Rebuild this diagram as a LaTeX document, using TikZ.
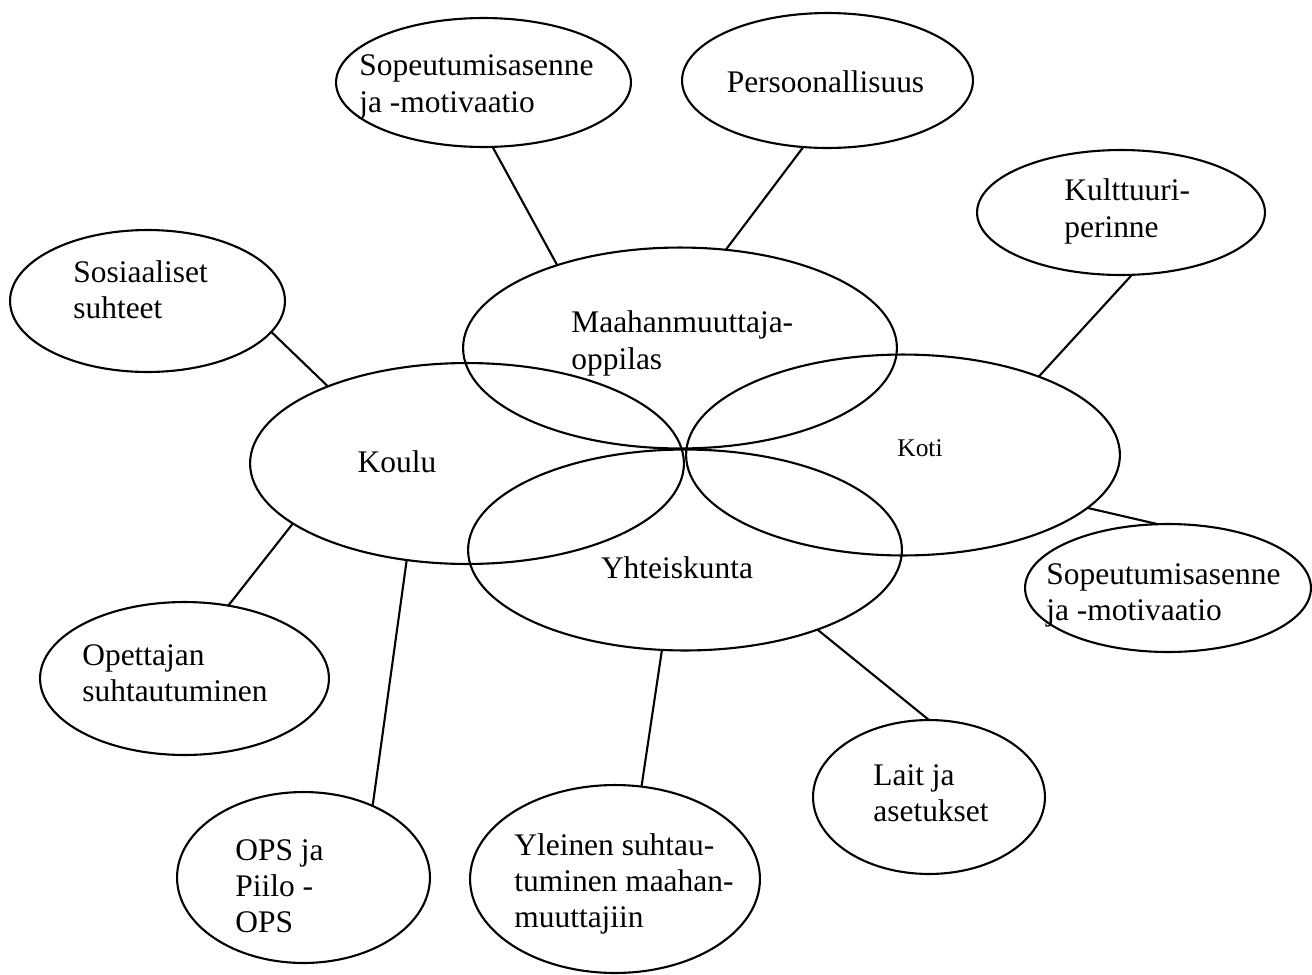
\documentclass[tikz,border=0pt]{standalone}
\usepackage{fontspec}
\setmainfont{Liberation Serif}
\usetikzlibrary{shapes.geometric}
\begin{document}
\begin{tikzpicture}[x=0.02cm,y=-0.02cm,
  ell/.style={draw, ellipse, line width=1.2pt, inner sep=0pt, outer sep=0pt},
  sz/.style 2 args={minimum width=#1*0.04cm, minimum height=#2*0.04cm},
  lbl/.style={font=\fontsize{17.9}{20.6}\selectfont, align=left, inner sep=0pt, anchor=west},
  link/.style={line width=1.2pt}]
\useasboundingbox (0,0) rectangle (1312,974);
% central ellipses
\node[ell, sz={217}{100.5}] (maah) at (680,348) {};
\node[ell, sz={217}{100.5}] (koulu) at (467,463.5) {};
\node[ell, sz={217}{100.5}] (koti) at (903,455) {};
\node[ell, sz={217}{100.5}] (yht) at (685,550) {};
% outer ellipses
\node[ell, sz={147.5}{64.5}] (sopa) at (483.5,82.5) {};
\node[ell, sz={145.5}{67.5}] (pers) at (827.5,80.5) {};
\node[ell, sz={144}{62.5}] (kult) at (1121,212.5) {};
\node[ell, sz={137.5}{71}] (sos) at (147.5,301) {};
\node[ell, sz={143}{64}] (sopb) at (1168,588) {};
\node[ell, sz={144.5}{76.5}] (opet) at (184.5,678.5) {};
\node[ell, sz={126.5}{85.5}] (ops) at (303.5,877.5) {};
\node[ell, sz={145}{94}] (yle) at (615,879) {};
\node[ell, sz={116}{77}] (lait) at (929,797) {};
% labels
\node[lbl] (sopa-t) at (359,87) {Sopeutumisasenne\\ja -motivaatio};
\node[lbl, anchor=center] (pers-t) at (825.5,82) {Persoonallisuus};
\node[lbl] (kult-t) at (1064,211.5) {Kulttuuri-\\perinne};
\node[lbl] (sos-t) at (73,290) {Sosiaaliset\\suhteet};
\node[lbl] (maah-t) at (571,343.5) {Maahanmuuttaja-\\oppilas};
\node[lbl, anchor=center] (koulu-t) at (397,462) {Koulu};
\node[lbl, anchor=center, font=\fontsize{14.5}{17}\selectfont] (koti-t) at (920,448) {Koti};
\node[lbl, anchor=center] (yht-t) at (677,568) {Yhteiskunta};
\node[lbl] (sopb-t) at (1046,595.5) {Sopeutumisasenne\\ja -motivaatio};
\node[lbl] (opet-t) at (82,673.5) {Opettajan\\suhtautuminen};
\node[lbl] (ops-t) at (235,886) {OPS ja\\Piilo -\\OPS};
\node[lbl] (yle-t) at (514,884) {Yleinen suhtau-\\tuminen maahan-\\muuttajiin};
\node[lbl] (lait-t) at (873,793.5) {Lait ja\\asetukset};
% connectors
\draw[link] (sopa.-82.8) -- (maah.146.9);
\draw[link] (pers.-110.3) -- (maah.65.3);
\draw[link] (kult.-80.3) -- (koti.30.9);
\draw[link] (sos.-14.5) -- (koulu.151.7);
\draw[link] (koti.-16.1) -- (sopb.99.75);
\draw[link] (koulu.-161.6) -- (opet.59.8);
\draw[link] (koulu.-122.8) -- (ops.46.3);
\draw[link] (yht.-103.8) -- (yle.74.5);
\draw[link] (yht.-31.2) -- (lait.90.8);
\end{tikzpicture}
\end{document}
